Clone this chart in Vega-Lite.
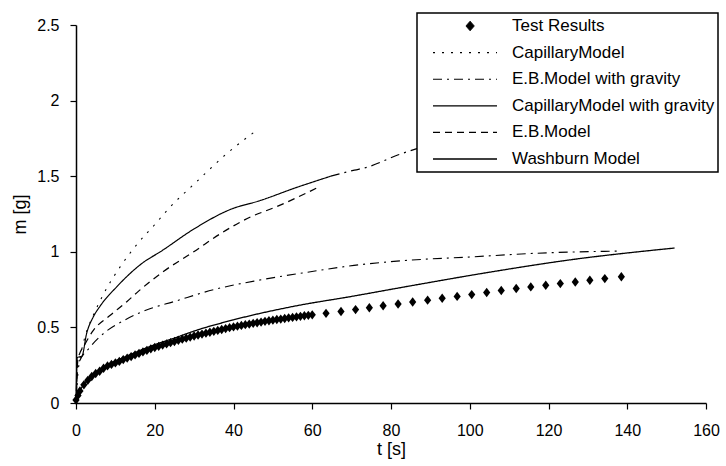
{
  "$schema": "https://vega.github.io/schema/vega-lite/v6.json",
  "width": 630,
  "height": 378,
  "autosize": "none",
  "padding": {"left": 76, "top": 25, "right": 20, "bottom": 63},
  "background": "white",
  "config": {
    "view": {"stroke": null},
    "font": "Liberation Sans",
    "axis": {
      "domainColor": "black", "domainWidth": 1.5, "tickColor": "black", "tickWidth": 1.2, "tickSize": 6,
      "labelColor": "black", "labelFont": "Liberation Sans", "labelFontSize": 16,
      "titleFont": "Liberation Sans", "titleFontSize": 18, "titleFontWeight": "normal", "titleColor": "black",
      "grid": false, "labelFlush": false, "labelOverlap": false
    }
  },
  "datasets": {
    "curves": [
      {"series": "CapillaryModel", "part": "main", "t": 0, "m": 0},
      {"series": "CapillaryModel", "part": "main", "t": 0.5, "m": 0.2},
      {"series": "CapillaryModel", "part": "main", "t": 1, "m": 0.29},
      {"series": "CapillaryModel", "part": "main", "t": 2.3, "m": 0.44},
      {"series": "CapillaryModel", "part": "main", "t": 4.4, "m": 0.58},
      {"series": "CapillaryModel", "part": "main", "t": 7.4, "m": 0.74},
      {"series": "CapillaryModel", "part": "main", "t": 11.2, "m": 0.9},
      {"series": "CapillaryModel", "part": "main", "t": 15.5, "m": 1.05},
      {"series": "CapillaryModel", "part": "main", "t": 20, "m": 1.18},
      {"series": "CapillaryModel", "part": "main", "t": 23.7, "m": 1.29},
      {"series": "CapillaryModel", "part": "main", "t": 30.9, "m": 1.47},
      {"series": "CapillaryModel", "part": "main", "t": 38.1, "m": 1.645},
      {"series": "CapillaryModel", "part": "main", "t": 45.7, "m": 1.8},

      {"series": "CapillaryModel with gravity", "part": "main", "t": 0, "m": 0},
      {"series": "CapillaryModel with gravity", "part": "main", "t": 0.3, "m": 0.3},
      {"series": "CapillaryModel with gravity", "part": "main", "t": 1.5, "m": 0.31},
      {"series": "CapillaryModel with gravity", "part": "main", "t": 2.7, "m": 0.46},
      {"series": "CapillaryModel with gravity", "part": "main", "t": 4.4, "m": 0.57},
      {"series": "CapillaryModel with gravity", "part": "main", "t": 6.1, "m": 0.64},
      {"series": "CapillaryModel with gravity", "part": "main", "t": 10.4, "m": 0.77},
      {"series": "CapillaryModel with gravity", "part": "main", "t": 17.1, "m": 0.93},
      {"series": "CapillaryModel with gravity", "part": "main", "t": 21.4, "m": 1.0},
      {"series": "CapillaryModel with gravity", "part": "main", "t": 29.9, "m": 1.15},
      {"series": "CapillaryModel with gravity", "part": "main", "t": 39.2, "m": 1.28},
      {"series": "CapillaryModel with gravity", "part": "main", "t": 46.9, "m": 1.34},
      {"series": "CapillaryModel with gravity", "part": "main", "t": 55.4, "m": 1.42},
      {"series": "CapillaryModel with gravity", "part": "main", "t": 64.7, "m": 1.5},
      {"series": "CapillaryModel with gravity", "part": "ext", "t": 64.7, "m": 1.5},
      {"series": "CapillaryModel with gravity", "part": "ext", "t": 70.7, "m": 1.54},
      {"series": "CapillaryModel with gravity", "part": "ext", "t": 74, "m": 1.56},
      {"series": "CapillaryModel with gravity", "part": "ext", "t": 81.7, "m": 1.64},
      {"series": "CapillaryModel with gravity", "part": "ext", "t": 90, "m": 1.71},

      {"series": "E.B.Model", "part": "main", "t": 0, "m": 0},
      {"series": "E.B.Model", "part": "main", "t": 0.5, "m": 0.29},
      {"series": "E.B.Model", "part": "main", "t": 2.3, "m": 0.39},
      {"series": "E.B.Model", "part": "main", "t": 4.4, "m": 0.48},
      {"series": "E.B.Model", "part": "main", "t": 8.7, "m": 0.58},
      {"series": "E.B.Model", "part": "main", "t": 12.9, "m": 0.67},
      {"series": "E.B.Model", "part": "main", "t": 15.9, "m": 0.74},
      {"series": "E.B.Model", "part": "main", "t": 22.2, "m": 0.87},
      {"series": "E.B.Model", "part": "main", "t": 29.9, "m": 1.0},
      {"series": "E.B.Model", "part": "main", "t": 36.7, "m": 1.12},
      {"series": "E.B.Model", "part": "main", "t": 43.5, "m": 1.22},
      {"series": "E.B.Model", "part": "main", "t": 52, "m": 1.31},
      {"series": "E.B.Model", "part": "main", "t": 61, "m": 1.42},

      {"series": "E.B.Model with gravity", "part": "main", "t": 0, "m": 0},
      {"series": "E.B.Model with gravity", "part": "main", "t": 0.5, "m": 0.25},
      {"series": "E.B.Model with gravity", "part": "main", "t": 3.6, "m": 0.37},
      {"series": "E.B.Model with gravity", "part": "main", "t": 7, "m": 0.46},
      {"series": "E.B.Model with gravity", "part": "main", "t": 12.5, "m": 0.55},
      {"series": "E.B.Model with gravity", "part": "main", "t": 18.4, "m": 0.62},
      {"series": "E.B.Model with gravity", "part": "main", "t": 24.8, "m": 0.67},
      {"series": "E.B.Model with gravity", "part": "main", "t": 35, "m": 0.75},
      {"series": "E.B.Model with gravity", "part": "main", "t": 46, "m": 0.81},
      {"series": "E.B.Model with gravity", "part": "main", "t": 58.8, "m": 0.865},
      {"series": "E.B.Model with gravity", "part": "main", "t": 70.6, "m": 0.91},
      {"series": "E.B.Model with gravity", "part": "main", "t": 85, "m": 0.945},
      {"series": "E.B.Model with gravity", "part": "main", "t": 99.5, "m": 0.965},
      {"series": "E.B.Model with gravity", "part": "main", "t": 116.5, "m": 0.99},
      {"series": "E.B.Model with gravity", "part": "main", "t": 138, "m": 1.005},

      {"series": "Washburn Model", "part": "main", "t": 0, "m": 0.02},
      {"series": "Washburn Model", "part": "main", "t": 1, "m": 0.08},
      {"series": "Washburn Model", "part": "main", "t": 4, "m": 0.18},
      {"series": "Washburn Model", "part": "main", "t": 7.8, "m": 0.25},
      {"series": "Washburn Model", "part": "main", "t": 12.9, "m": 0.31},
      {"series": "Washburn Model", "part": "main", "t": 18.9, "m": 0.375},
      {"series": "Washburn Model", "part": "main", "t": 25.6, "m": 0.435},
      {"series": "Washburn Model", "part": "main", "t": 29.9, "m": 0.475},
      {"series": "Washburn Model", "part": "main", "t": 40, "m": 0.55},
      {"series": "Washburn Model", "part": "main", "t": 55.4, "m": 0.64},
      {"series": "Washburn Model", "part": "main", "t": 70, "m": 0.705},
      {"series": "Washburn Model", "part": "main", "t": 85, "m": 0.775},
      {"series": "Washburn Model", "part": "main", "t": 105, "m": 0.865},
      {"series": "Washburn Model", "part": "main", "t": 125, "m": 0.945},
      {"series": "Washburn Model", "part": "main", "t": 152, "m": 1.025}
    ],
    "tests": [
      {"t": 0, "m": 0.02}, {"t": 0.5, "m": 0.05}, {"t": 1, "m": 0.08}, {"t": 2, "m": 0.12}, {"t": 3, "m": 0.15},
      {"t": 4, "m": 0.175}, {"t": 5, "m": 0.195}, {"t": 6, "m": 0.21}, {"t": 7, "m": 0.23}, {"t": 8, "m": 0.245},
      {"t": 9, "m": 0.255}, {"t": 10, "m": 0.265}, {"t": 11, "m": 0.275}, {"t": 12, "m": 0.287}, {"t": 13, "m": 0.297},
      {"t": 14, "m": 0.307}, {"t": 15, "m": 0.318}, {"t": 16, "m": 0.328}, {"t": 17, "m": 0.338}, {"t": 18, "m": 0.348},
      {"t": 19, "m": 0.358}, {"t": 20, "m": 0.367}, {"t": 21, "m": 0.375}, {"t": 22, "m": 0.383}, {"t": 23, "m": 0.391},
      {"t": 24, "m": 0.399}, {"t": 25, "m": 0.407}, {"t": 26, "m": 0.415}, {"t": 27, "m": 0.422}, {"t": 28, "m": 0.429},
      {"t": 29, "m": 0.436}, {"t": 30, "m": 0.443}, {"t": 31, "m": 0.45}, {"t": 32, "m": 0.456}, {"t": 33, "m": 0.462},
      {"t": 34, "m": 0.468}, {"t": 35, "m": 0.474}, {"t": 36, "m": 0.48}, {"t": 37, "m": 0.486}, {"t": 38, "m": 0.492},
      {"t": 39, "m": 0.498}, {"t": 40, "m": 0.503}, {"t": 41, "m": 0.508}, {"t": 42, "m": 0.513}, {"t": 43, "m": 0.518},
      {"t": 44, "m": 0.522}, {"t": 45, "m": 0.527}, {"t": 46, "m": 0.531}, {"t": 47, "m": 0.535}, {"t": 48, "m": 0.54},
      {"t": 49, "m": 0.544}, {"t": 50, "m": 0.548}, {"t": 51, "m": 0.552}, {"t": 52, "m": 0.555}, {"t": 53, "m": 0.559},
      {"t": 54, "m": 0.563}, {"t": 55, "m": 0.566}, {"t": 56, "m": 0.57}, {"t": 57, "m": 0.573}, {"t": 58, "m": 0.577},
      {"t": 59, "m": 0.58}, {"t": 60, "m": 0.583},
      {"t": 63.5, "m": 0.593}, {"t": 67.3, "m": 0.605}, {"t": 71, "m": 0.618}, {"t": 74.5, "m": 0.63},
      {"t": 78, "m": 0.643}, {"t": 81.8, "m": 0.655}, {"t": 85.5, "m": 0.668}, {"t": 89.3, "m": 0.68},
      {"t": 93, "m": 0.693}, {"t": 96.8, "m": 0.705}, {"t": 100.5, "m": 0.717}, {"t": 104.3, "m": 0.731},
      {"t": 108, "m": 0.744}, {"t": 111.8, "m": 0.757}, {"t": 115.5, "m": 0.768}, {"t": 119.3, "m": 0.779},
      {"t": 123, "m": 0.79}, {"t": 126.8, "m": 0.8}, {"t": 130.5, "m": 0.812}, {"t": 134.3, "m": 0.823},
      {"t": 138.5, "m": 0.835}
    ]
  },
  "layer": [
    {
      "data": {"name": "curves"},
      "transform": [{"filter": "datum.part === 'main'"}],
      "mark": {"type": "line", "color": "black", "interpolate": "monotone"},
      "encoding": {
        "x": {"field": "t", "type": "quantitative", "scale": {"domain": [0, 160], "nice": false},
              "axis": {"title": "t [s]", "values": [0, 20, 40, 60, 80, 100, 120, 140, 160], "format": "d", "labelPadding": 13, "titlePadding": 2}},
        "y": {"field": "m", "type": "quantitative", "scale": {"domain": [0, 2.5], "nice": false},
              "axis": {"title": "m [g]", "values": [0, 0.5, 1, 1.5, 2, 2.5], "format": "~g", "labelPadding": 11, "titlePadding": 7}},
        "strokeDash": {
          "field": "series", "type": "nominal",
          "scale": {
            "domain": ["Test Results", "CapillaryModel", "E.B.Model with gravity", "CapillaryModel with gravity", "E.B.Model", "Washburn Model"],
            "range": [[1, 0], [2, 7], [9, 5, 2, 5], [1, 0], [7, 5], [1, 0]]
          },
          "legend": {
            "title": null,
            "orient": "none",
            "legendX": 341,
            "legendY": -12,
            "symbolType": "stroke",
            "symbolSize": 4096,
            "symbolStrokeWidth": 1.2,
            "symbolStrokeColor": "black",
            "symbolOffset": 12,
            "clipHeight": 20,
            "rowPadding": 6.6,
            "labelOffset": 14,
            "labelFont": "Liberation Sans",
            "labelFontSize": 17,
            "labelColor": "black",
            "labelLimit": 400,
            "padding": 3,
            "strokeColor": "black",
            "fillColor": "white",
            "encode": {
              "legend": {"update": {"strokeWidth": {"value": 1.5}}},
              "symbols": {
                "update": {
                  "shape": {"signal": "datum.value === 'Test Results' ? 'M0.16,-0.15L0.29,0L0.16,0.15L0.03,0Z' : 'stroke'"},
                  "fill": {"signal": "datum.value === 'Test Results' ? 'black' : 'transparent'"},
                  "stroke": {"value": "black"},
                  "strokeWidth": {"signal": "datum.value === 'Washburn Model' ? 1.8 : (datum.value === 'Test Results' ? 0.5 : 1.2)"}
                }
              }
            }
          }
        },
        "strokeWidth": {
          "field": "series", "type": "ordinal",
          "scale": {
            "domain": ["Test Results", "CapillaryModel", "E.B.Model with gravity", "CapillaryModel with gravity", "E.B.Model", "Washburn Model"],
            "range": [1, 1.3, 1.2, 1, 1.3, 1.8]
          },
          "legend": null
        },
        "order": {"field": "t", "type": "quantitative"}
      }
    },
    {
      "data": {"name": "curves"},
      "transform": [{"filter": "datum.part === 'ext'"}],
      "mark": {"type": "line", "color": "black", "strokeWidth": 1.2, "strokeDash": [9, 5, 2, 5], "interpolate": "monotone"},
      "encoding": {
        "x": {"field": "t", "type": "quantitative"},
        "y": {"field": "m", "type": "quantitative"}
      }
    },
    {
      "data": {"name": "tests"},
      "mark": {"type": "point", "shape": "M0,-1.1L0.85,0L0,1.1L-0.85,0Z", "filled": true, "color": "black", "size": 72, "opacity": 1},
      "encoding": {
        "x": {"field": "t", "type": "quantitative"},
        "y": {"field": "m", "type": "quantitative"}
      }
    }
  ]
}
